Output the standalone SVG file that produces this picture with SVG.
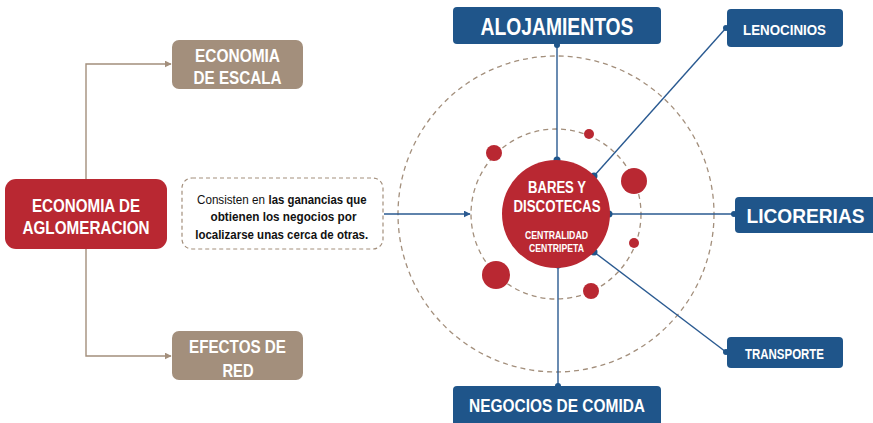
<svg xmlns="http://www.w3.org/2000/svg" width="873" height="423" viewBox="0 0 873 423">
<defs>
<style>
.t{font-family:"Liberation Sans",Arial,sans-serif;font-weight:bold;fill:#fff;text-anchor:middle}
.tan{fill:#a38f7c}
.red{fill:#b92832}
.blue{fill:#1f558a}
.bl{stroke:#2a5a91;stroke-width:1.4;fill:none}
.tl{stroke:#a38f7c;stroke-width:1.4;fill:none}
.ds{stroke:#a38f7c;stroke-width:1.3;fill:none;stroke-dasharray:5 4}
.dot{fill:#1f558a}
.body{font-family:"Liberation Sans",Arial,sans-serif;font-size:13px;fill:#111;text-anchor:middle}
.st{text-anchor:start}
</style>
<marker id="ta" viewBox="0 0 10 10" refX="9" refY="5" markerWidth="7" markerHeight="7" markerUnits="userSpaceOnUse" orient="auto"><path d="M0,0 L10,5 L0,10 z" fill="#a38f7c"/></marker>
<marker id="ba" viewBox="0 0 10 10" refX="9" refY="5" markerWidth="7" markerHeight="7" markerUnits="userSpaceOnUse" orient="auto"><path d="M0,0 L10,5 L0,10 z" fill="#2a5a91"/></marker>
</defs>
<rect width="873" height="423" fill="#fff"/>

<g id="rings">
<circle class="ds" cx="556" cy="214" r="158"/>
<circle class="ds" cx="556" cy="214" r="85"/>
<circle class="red" cx="494" cy="153" r="8"/>
<circle class="red" cx="589" cy="134" r="5"/>
<circle class="red" cx="634" cy="181" r="13"/>
<circle class="red" cx="634" cy="243" r="5"/>
<circle class="red" cx="496" cy="275" r="14"/>
<circle class="red" cx="591" cy="291" r="8"/>
</g>

<g id="connectors">
<path class="tl" d="M86,179 V64 H171" marker-end="url(#ta)"/>
<path class="tl" d="M86,249 V356 H171" marker-end="url(#ta)"/>
<path class="bl" d="M384,214 H470" marker-end="url(#ba)"/>
<path class="bl" d="M557,45 V160"/>
<path class="bl" d="M726,28 L594,176"/>
<path class="bl" d="M609,214 H734"/>
<path class="bl" d="M594,252 L726,352"/>
<path class="bl" d="M558,265 V386"/>
<circle class="dot" cx="557" cy="45" r="3"/>
<circle class="dot" cx="557" cy="160" r="3.5"/>
<circle class="dot" cx="726" cy="28" r="3"/>
<circle class="dot" cx="594" cy="176" r="3.5"/>
<circle class="dot" cx="609" cy="214" r="3.5"/>
<circle class="dot" cx="734" cy="214" r="3"/>
<circle class="dot" cx="594" cy="252" r="3.5"/>
<circle class="dot" cx="726" cy="352" r="3"/>
<circle class="dot" cx="558" cy="265" r="3.5"/>
<circle class="dot" cx="558" cy="386" r="3"/>
</g>

<g id="aglomeracion">
<rect class="red" x="5" y="179" width="162" height="70" rx="11"/>
<text class="t" x="86" y="212" font-size="19" textLength="108" lengthAdjust="spacingAndGlyphs">ECONOMIA DE</text>
<text class="t" x="86" y="234" font-size="19" textLength="127" lengthAdjust="spacingAndGlyphs">AGLOMERACION</text>
</g>

<g id="escala">
<rect class="tan" x="172" y="40" width="131" height="49" rx="7"/>
<text class="t" x="237.5" y="62" font-size="18" textLength="85" lengthAdjust="spacingAndGlyphs">ECONOMIA</text>
<text class="t" x="237.5" y="83.5" font-size="18" textLength="88" lengthAdjust="spacingAndGlyphs">DE ESCALA</text>
</g>

<g id="red">
<rect class="tan" x="172" y="331" width="131" height="49" rx="7"/>
<text class="t" x="237.5" y="353" font-size="19" textLength="97" lengthAdjust="spacingAndGlyphs">EFECTOS DE</text>
<text class="t" x="238" y="376.5" font-size="19" textLength="31" lengthAdjust="spacingAndGlyphs">RED</text>
</g>

<g id="definicion">
<rect x="182" y="178" width="201" height="71" rx="10" fill="#fff" stroke="#a38f7c" stroke-width="1.2" stroke-dasharray="4 3"/>
<text class="body st" x="197" y="204" textLength="68" lengthAdjust="spacingAndGlyphs">Consisten en</text>
<text class="body st" x="268.5" y="204" font-weight="bold" textLength="98" lengthAdjust="spacingAndGlyphs">las ganancias que</text>
<text class="body" x="283.5" y="221" font-weight="bold" textLength="146" lengthAdjust="spacingAndGlyphs">obtienen los negocios por</text>
<text class="body" x="281.7" y="238.5" font-weight="bold" textLength="173" lengthAdjust="spacingAndGlyphs">localizarse unas cerca de otras.</text>
</g>

<g id="bares">
<circle class="red" cx="556" cy="214" r="54"/>
<text class="t" x="557" y="192.5" font-size="16" textLength="58" lengthAdjust="spacingAndGlyphs">BARES Y</text>
<text class="t" x="557" y="212" font-size="16" textLength="87" lengthAdjust="spacingAndGlyphs">DISCOTECAS</text>
<text class="t" x="556.5" y="238.5" font-size="10.5" textLength="63" lengthAdjust="spacingAndGlyphs">CENTRALIDAD</text>
<text class="t" x="556.5" y="251.5" font-size="10.5" textLength="55" lengthAdjust="spacingAndGlyphs">CENTRIPETA</text>
</g>

<g id="alojamientos">
<rect class="blue" x="453" y="7" width="208" height="37" rx="4"/>
<text class="t" x="557" y="35" font-size="23" textLength="153" lengthAdjust="spacingAndGlyphs">ALOJAMIENTOS</text>
</g>

<g id="lenocinios">
<rect class="blue" x="727" y="9" width="116" height="38" rx="4"/>
<text class="t" x="784.5" y="34.5" font-size="15" textLength="83" lengthAdjust="spacingAndGlyphs">LENOCINIOS</text>
</g>

<g id="licorerias">
<rect class="blue" x="735" y="197" width="142" height="36" rx="4"/>
<text class="t" x="805.5" y="223" font-size="21" textLength="118" lengthAdjust="spacingAndGlyphs">LICORERIAS</text>
</g>

<g id="transporte">
<rect class="blue" x="727" y="337" width="116" height="31" rx="4"/>
<text class="t" x="784.5" y="358.5" font-size="14" textLength="79" lengthAdjust="spacingAndGlyphs">TRANSPORTE</text>
</g>

<g id="comida">
<rect class="blue" x="453" y="386" width="208" height="40" rx="4"/>
<text class="t" x="557" y="412" font-size="18" textLength="176" lengthAdjust="spacingAndGlyphs">NEGOCIOS DE COMIDA</text>
</g>
</svg>
